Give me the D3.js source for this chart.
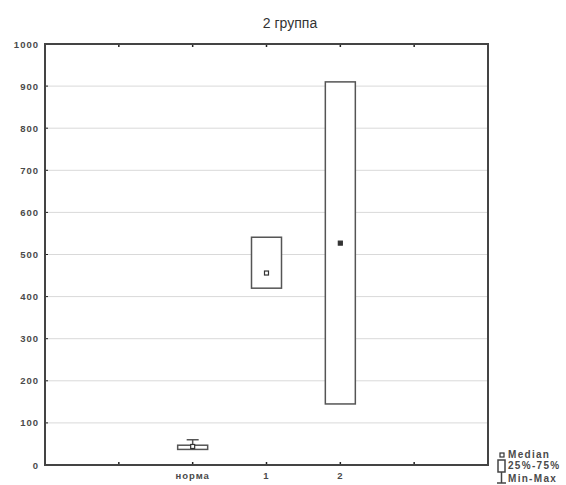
<!DOCTYPE html>
<html>
<head>
<meta charset="utf-8">
<script src="https://cdn.jsdelivr.net/npm/d3@7.9.0/dist/d3.min.js"></script>
<style>
  body { margin: 0; background: #fff; }
  svg { display: block; font-family: "Liberation Sans", Arial, sans-serif; }
  .tick-label { font-size: 9.5px; font-weight: bold; fill: #4a4a4a; letter-spacing: 1px; }
  .legend-label { font-size: 10px; font-weight: bold; fill: #4a4a4a; letter-spacing: 1.3px; }
</style>
</head>
<body>
<svg width="566" height="485"></svg>
<script>
// categories and box statistics
const categories = ['норма', '1', '2'];
const medians = [44, 456, 527];
const q25 = [37, 420, 145];
const q75 = [47, 541, 910];
const mins = [37, 420, 145];
const maxs = [60, 541, 910];
const yTicks = [0, 100, 200, 300, 400, 500, 600, 700, 800, 900, 1000];
const xTickSlots = [1, 2, 3, 4, 5];

const svg = d3.select('svg');
const plotL = 45, plotR = 488, plotT = 44, plotB = 465;

const x = d3.scaleLinear().domain([0, 6]).range([plotL, plotR]);
const y = d3.scaleLinear().domain([0, 1000]).range([plotB, plotT]);

// title
svg.append('text')
    .attr('x', 290).attr('y', 28)
    .attr('text-anchor', 'middle')
    .attr('font-size', 14)
    .attr('fill', '#333')
    .text('2 группа');

// grid lines
svg.append('g').selectAll('line')
    .data(yTicks.filter(d => d > 0 && d < 1000))
    .join('line')
    .attr('x1', plotL).attr('x2', plotR)
    .attr('y1', d => y(d)).attr('y2', d => y(d))
    .attr('stroke', '#d9d9d9').attr('stroke-width', 1);

// y tick labels and ticks
svg.append('g').selectAll('text')
    .data(yTicks)
    .join('text')
    .attr('class', 'tick-label')
    .attr('x', 39).attr('y', d => y(d) + 3.5)
    .attr('text-anchor', 'end')
    .text(d => d);

svg.append('g').selectAll('line')
    .data(yTicks)
    .join('line')
    .attr('x1', plotL).attr('x2', plotL + 3)
    .attr('y1', d => y(d)).attr('y2', d => y(d))
    .attr('stroke', '#222');

// top / bottom ticks
xTickSlots.forEach(i => {
    svg.append('line').attr('x1', x(i)).attr('x2', x(i))
        .attr('y1', plotB).attr('y2', plotB - 3).attr('stroke', '#222').attr('stroke-width', 1.5);
    svg.append('line').attr('x1', x(i)).attr('x2', x(i))
        .attr('y1', plotT).attr('y2', plotT + 3).attr('stroke', '#222').attr('stroke-width', 1.5);
});

// x labels
svg.append('g').selectAll('text')
    .data(categories)
    .join('text')
    .attr('class', 'tick-label')
    .attr('x', (d, i) => x(i + 2))
    .attr('y', 479)
    .attr('text-anchor', 'middle')
    .text(d => d);

// boxes
const boxW = 30;
categories.forEach((c, i) => {
    const cx = x(i + 2);
    const g = svg.append('g');
    if (maxs[i] > q75[i]) {
        g.append('line').attr('x1', cx).attr('x2', cx)
            .attr('y1', y(maxs[i])).attr('y2', y(q75[i])).attr('stroke', '#555').attr('stroke-width', 1.5);
        g.append('line').attr('x1', cx - 6).attr('x2', cx + 6)
            .attr('y1', y(maxs[i])).attr('y2', y(maxs[i])).attr('stroke', '#555').attr('stroke-width', 1.5);
    }
    if (mins[i] < q25[i]) {
        g.append('line').attr('x1', cx).attr('x2', cx)
            .attr('y1', y(q25[i])).attr('y2', y(mins[i])).attr('stroke', '#555').attr('stroke-width', 1.5);
        g.append('line').attr('x1', cx - 6).attr('x2', cx + 6)
            .attr('y1', y(mins[i])).attr('y2', y(mins[i])).attr('stroke', '#555').attr('stroke-width', 1.5);
    }
    g.append('rect')
        .attr('x', cx - boxW / 2).attr('width', boxW)
        .attr('y', y(q75[i])).attr('height', y(q25[i]) - y(q75[i]))
        .attr('fill', '#fff').attr('stroke', '#555').attr('stroke-width', 1.5);
    g.append('rect')
        .attr('x', cx - 2).attr('y', y(medians[i]) - 2)
        .attr('width', 4).attr('height', 4)
        .attr('fill', i === 2 ? '#333' : '#fff').attr('stroke', '#333').attr('stroke-width', 1.2);
});

// frame
svg.append('rect')
    .attr('x', plotL).attr('y', plotT)
    .attr('width', plotR - plotL).attr('height', plotB - plotT)
    .attr('fill', 'none').attr('stroke', '#444').attr('stroke-width', 2);

// legend
const lg = svg.append('g');
lg.append('rect').attr('x', 500).attr('y', 453).attr('width', 4).attr('height', 4)
    .attr('fill', '#fff').attr('stroke', '#333').attr('stroke-width', 1.2);
lg.append('rect').attr('x', 498).attr('y', 460).attr('width', 7).attr('height', 12)
    .attr('fill', '#fff').attr('stroke', '#444').attr('stroke-width', 1.5);
lg.append('line').attr('x1', 501.5).attr('x2', 501.5).attr('y1', 472).attr('y2', 483)
    .attr('stroke', '#444').attr('stroke-width', 1.5);
lg.append('line').attr('x1', 497).attr('x2', 506).attr('y1', 483).attr('y2', 483)
    .attr('stroke', '#444').attr('stroke-width', 1.5);
[['Median', 458], ['25%-75%', 469], ['Min-Max', 482]].forEach(([t, yy]) => {
    lg.append('text').attr('class', 'legend-label').attr('x', 508).attr('y', yy).text(t);
});
</script>
</body>
</html>
